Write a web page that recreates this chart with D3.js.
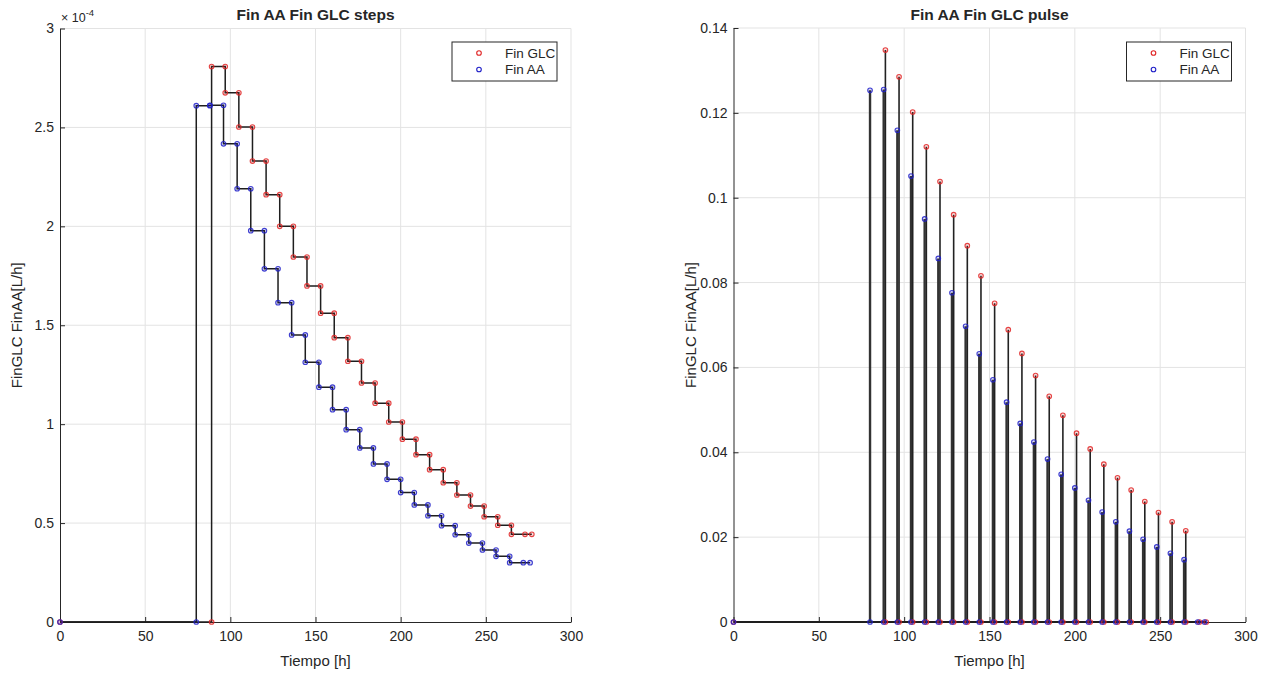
<!DOCTYPE html>
<html>
<head>
<meta charset="utf-8">
<script src="https://cdn.jsdelivr.net/npm/d3@7"></script>
<style>
  body { margin: 0; background: #fff; }
  text { font-family: "Liberation Sans", Arial, Helvetica, sans-serif; fill: #262626; }
</style>
</head>
<body>
<svg id="chart" width="1270" height="675"></svg>
<script>
// ---- data -------------------------------------------------------------
// Feed start times [h]; each feed lasts until the next one (8 h).
const aaTimes  = [80, 88, 96, 104, 112, 120, 128, 136, 144, 152, 160, 168,
                  176, 184, 192, 200, 208, 216, 224, 232, 240, 248, 256, 264];
const glcTimes = [89, 97, 105, 113, 121, 129, 137, 145, 153, 161, 169, 177,
                  185, 193, 201, 209, 217, 225, 233, 241, 249, 257, 265];
// end of the last feed interval and end of simulation [h]
const aaEnd  = [272, 276];
const glcEnd = [273, 277];

// Continuous feed rate, in units of 1e-4 L/h
const aaStep  = [2.610, 2.612, 2.417, 2.190, 1.978, 1.785, 1.614, 1.451, 1.313, 1.187,
                 1.073, 0.972, 0.880, 0.799, 0.721, 0.654, 0.592, 0.537, 0.487, 0.441,
                 0.399, 0.364, 0.332, 0.300];
const glcStep = [2.808, 2.675, 2.502, 2.330, 2.160, 2.000, 1.845, 1.699, 1.561, 1.437,
                 1.318, 1.208, 1.106, 1.011, 0.924, 0.846, 0.770, 0.704, 0.642, 0.586,
                 0.532, 0.489, 0.443];

// Pulse feed rate [L/h]
const aaPulse  = [0.1253, 0.1255, 0.1159, 0.1051, 0.0950, 0.0857, 0.0776, 0.0697, 0.0632,
                  0.0571, 0.0518, 0.0468, 0.0424, 0.0384, 0.0348, 0.0316, 0.0287, 0.0259,
                  0.0236, 0.0214, 0.0195, 0.0177, 0.0162, 0.0147];
const glcPulse = [0.1348, 0.1285, 0.1202, 0.1120, 0.1038, 0.0960, 0.0887, 0.0816, 0.0751,
                  0.0689, 0.0633, 0.0581, 0.0532, 0.0487, 0.0445, 0.0408, 0.0372, 0.0340,
                  0.0311, 0.0284, 0.0258, 0.0236, 0.0215];

// Axis ticks
const xTicks      = [0, 50, 100, 150, 200, 250, 300];
const yTicksStep  = [0, 0.5, 1, 1.5, 2, 2.5, 3];
const yTicksPulse = [0, 0.02, 0.04, 0.06, 0.08, 0.1, 0.12, 0.14];

const titles = ["Fin AA Fin GLC steps", "Fin AA Fin GLC pulse"];
const xLabel = "Tiempo [h]";
const yLabel = "FinGLC FinAA[L/h]";
const legendNames = ["Fin GLC", "Fin AA"];

// ---- styling ----------------------------------------------------------
const RED = "#e02424", BLUE = "#2020c8", LINE = "#1e1e1e", GRID = "#e3e3e3", AXIS = "#262626";
const TICK_FS = 14;

const svg = d3.select("#chart");

function panel(left, right, top, bottom, yDomain, yTicks, yFmt) {
  const x = d3.scaleLinear().domain([0, 300]).range([left, right]);
  const y = d3.scaleLinear().domain(yDomain).range([bottom, top]);
  const g = svg.append("g");

  // grid
  g.append("g").selectAll("line").data(xTicks.slice(1)).join("line")
    .attr("x1", d => x(d)).attr("x2", d => x(d)).attr("y1", top).attr("y2", bottom)
    .attr("stroke", GRID).attr("stroke-width", 1);
  g.append("g").selectAll("line").data(yTicks.slice(1)).join("line")
    .attr("x1", left).attr("x2", right).attr("y1", d => y(d)).attr("y2", d => y(d))
    .attr("stroke", GRID).attr("stroke-width", 1);

  // axes (ticks pointing inward, no box)
  const xa = g.append("g").attr("transform", `translate(0,${bottom})`)
    .call(d3.axisBottom(x).tickValues(xTicks).tickFormat(d3.format("d"))
      .tickSizeInner(-5).tickSizeOuter(0).tickPadding(9));
  const ya = g.append("g").attr("transform", `translate(${left},0)`)
    .call(d3.axisLeft(y).tickValues(yTicks).tickFormat(yFmt)
      .tickSizeInner(-5).tickSizeOuter(0).tickPadding(6));
  [xa, ya].forEach(a => {
    a.select(".domain").attr("stroke", AXIS).attr("stroke-width", 1);
    a.selectAll(".tick line").attr("stroke", AXIS);
    a.selectAll(".tick text").attr("font-size", TICK_FS).attr("fill", AXIS)
      .style("font-family", '"Liberation Sans", Arial, sans-serif');
  });

  return { g, x, y, left, right, top, bottom };
}

function decorate(p, title) {
  const cx = (p.left + p.right) / 2;
  p.g.append("text").attr("x", cx).attr("y", 20).attr("text-anchor", "middle")
    .attr("font-size", 15.5).attr("font-weight", "bold").attr("fill", "#000").text(title);
  p.g.append("text").attr("x", cx).attr("y", 666).attr("text-anchor", "middle")
    .attr("font-size", 15).text(xLabel);
  p.g.append("text")
    .attr("transform", `translate(${p.left - 38},${(p.top + p.bottom) / 2}) rotate(-90)`)
    .attr("text-anchor", "middle").attr("font-size", 15).text(yLabel);

  // legend
  const lx = p.right - 119, ly = 42, lw = 105, lh = 39;
  const lg = p.g.append("g");
  lg.append("rect").attr("x", lx).attr("y", ly).attr("width", lw).attr("height", lh)
    .attr("fill", "#fff").attr("stroke", "#262626").attr("stroke-width", 1);
  [RED, BLUE].forEach((c, i) => {
    const yy = ly + 11 + i * 16.5;
    lg.append("circle").attr("cx", lx + 27).attr("cy", yy).attr("r", 2.3)
      .attr("fill", "none").attr("stroke", c).attr("stroke-width", 1.1);
    lg.append("text").attr("x", lx + 53).attr("y", yy + 4.5).attr("font-size", 13.5)
      .attr("fill", "#000").text(legendNames[i]);
  });
}

function markers(p, pts, color) {
  p.g.append("g").selectAll("circle").data(pts).join("circle")
    .attr("cx", d => p.x(d[0])).attr("cy", d => p.y(d[1])).attr("r", 2.3)
    .attr("fill", color).attr("fill-opacity", 0.15)
    .attr("stroke", color).attr("stroke-width", 1.1).attr("stroke-opacity", 0.85);
}

// ---- left panel: continuous (stair) feed ------------------------------
const L = panel(60, 571, 28.5, 622, [0, 3], yTicksStep, d => d === 0 ? "0" : String(d));
decorate(L, titles[0]);

// exponent label for the y axis
const ex = L.g.append("text").attr("x", 61).attr("y", 22).attr("font-size", 12.5);
ex.append("tspan").text("\u00d7 10");
ex.append("tspan").attr("dy", -6).attr("font-size", 9.5).text("-4");

function stairPoints(times, vals, ends) {
  const line = [[0, 0], [times[0], 0]];
  const marks = [[0, 0], [times[0], 0]];
  times.forEach((t, i) => {
    const t2 = i < times.length - 1 ? times[i + 1] : ends[0];
    line.push([t, vals[i]], [t2, vals[i]]);
    marks.push([t, vals[i]], [t2, vals[i]]);
  });
  const last = vals[vals.length - 1];
  line.push([ends[1], last]);
  marks.push([ends[1], last]);
  return { line, marks };
}

const stepLine = d3.line().x(d => L.x(d[0])).y(d => L.y(d[1]));
const glcS = stairPoints(glcTimes, glcStep, glcEnd);
const aaS  = stairPoints(aaTimes, aaStep, aaEnd);
[glcS, aaS].forEach(s => {
  L.g.append("path").attr("d", stepLine(s.line)).attr("fill", "none")
    .attr("stroke", LINE).attr("stroke-width", 1.5);
});
markers(L, glcS.marks, RED);
markers(L, aaS.marks, BLUE);

// ---- right panel: pulse feed -----------------------------------------
const R = panel(733.5, 1245.5, 28, 622, [0, 0.14], yTicksPulse, d => d === 0 ? "0" : String(+d.toFixed(2)));
decorate(R, titles[1]);

// baseline at zero while no feed is given
R.g.append("line").attr("x1", R.x(0)).attr("x2", R.x(glcEnd[1]))
  .attr("y1", R.y(0)).attr("y2", R.y(0)).attr("stroke", LINE).attr("stroke-width", 2);

function stems(times, vals, width, color) {
  R.g.append("g").selectAll("line").data(times).join("line")
    .attr("x1", t => R.x(t)).attr("x2", t => R.x(t))
    .attr("y1", R.y(0)).attr("y2", (t, i) => R.y(vals[i]))
    .attr("stroke", color).attr("stroke-width", width);
}
stems(aaTimes, aaPulse, 2.4, "#333");
stems(glcTimes, glcPulse, 1.6, "#222");

const glcP = [[0, 0]].concat(glcTimes.map((t, i) => [t, glcPulse[i]]), glcTimes.map(t => [t, 0]),
                             glcEnd.map(t => [t, 0]));
const aaP  = [[0, 0]].concat(aaTimes.map((t, i) => [t, aaPulse[i]]), aaTimes.map(t => [t, 0]),
                             aaEnd.map(t => [t, 0]));
markers(R, glcP, RED);
markers(R, aaP, BLUE);
</script>
</body>
</html>
